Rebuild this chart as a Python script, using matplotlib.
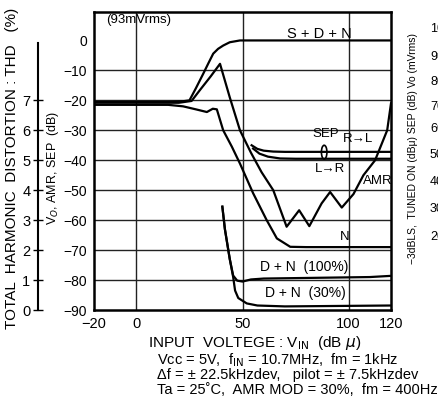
import matplotlib
matplotlib.use("Agg")
import matplotlib.pyplot as plt
from matplotlib.patches import Ellipse

plt.rcParams['font.family'] = ['Liberation Sans', 'DejaVu Sans']
plt.rcParams['axes.unicode_minus'] = True

# ---------------- data (dB vs input dBμ) ----------------
sdn_x = [-20, 15, 22, 25, 28, 31.5, 34, 36.2, 38.5, 40.9, 44, 48.8, 60, 120]
sdn_y = [-20.5, -20.5, -20.3, -20, -16, -11.1, -7.5, -4.4, -2.8, -1.7, -0.6, 0, 0, 0]

amr_x = [-20, 20, 26, 30, 35, 39.4, 44, 48.8, 54, 59, 64.5, 70.8, 76.7, 81.5, 87.3, 91.3,
         96.8, 102.3, 107, 112.5, 118.2, 120]
amr_y = [-20.8, -20.8, -20.2, -16.5, -12, -7.8, -19, -30, -37.5, -44, -50, -62.2, -56.7, -62,
         -54.4, -50.6, -55.8, -51.3, -45, -40, -30, -21]

n_x = [-20, 15, 22, 28, 33.2, 36, 37.9, 40.9, 45, 48.8, 55, 61.4, 66.2, 72.5, 80, 120]
n_y = [-21.5, -21.5, -22, -23, -23.9, -22.8, -23, -30, -35.5, -41.1, -51, -60, -66.1, -68.9, -69, -69]

sep_rl_x = [54.3, 57, 60, 64.5, 70, 120]
sep_rl_y = [-35, -36.2, -36.8, -37.1, -37.2, -37.2]

sep_lr_x = [55, 58, 62, 67.7, 75, 120]
sep_lr_y = [-36.1, -37.8, -38.8, -39.4, -39.5, -39.5]

dn100_x = [40.5, 41.7, 44, 45.6, 47.5, 50, 54, 60, 90, 110, 120]
dn100_y = [-55.5, -63, -73, -78.5, -80.2, -80.5, -79.8, -79.5, -79.2, -79, -78.6]

dn30_x = [40.5, 41.7, 44, 45.6, 46.5, 48, 52, 57, 70, 120]
dn30_y = [-55.5, -63, -73, -79, -83.5, -86, -87.8, -88.5, -88.8, -88.5]

x_ticks = [-20, 0, 50, 100, 120]
x_ticklabels = ["\u221220", "0", "50", "100", "120"]
y_ticks = [-90, -80, -70, -60, -50, -40, -30, -20, -10, 0]
y_ticklabels = ["\u221290", "\u221280", "\u221270", "\u221260", "\u221250", "\u221240",
                "\u221230", "\u221220", "\u221210", "0"]
thd_ticks = [0, 1, 2, 3, 4, 5, 6, 7]
right_ticks = [10, 4.3, -5, -13.3, -21.7, -29, -37.7, -46.7, -55.7, -65]
right_ticklabels = ["110", "100", "90", "80", "70", "60", "50", "40", "30", "20"]

# ---------------- figure ----------------
W, H = 438, 399
fig = plt.figure(figsize=(W / 100, H / 100), dpi=100)
ax = fig.add_axes([94 / W, 1 - 310 / H, (391 - 94) / W, (310 - 12) / H])
ax.set_xlim(-20, 120)
ax.set_ylim(-90, 9.5)

# grid
for yv in [-80, -70, -60, -50, -40, -30, -20, -10]:
    ax.axhline(yv, color='#222222', lw=1.0, zorder=1)
for xv in [0, 50, 100]:
    ax.axvline(xv, color='#222222', lw=1.0, zorder=1)

lw = 1.6
for xs, ys in [(sdn_x, sdn_y), (amr_x, amr_y), (n_x, n_y), (sep_rl_x, sep_rl_y),
               (sep_lr_x, sep_lr_y), (dn100_x, dn100_y), (dn30_x, dn30_y)]:
    ax.plot(xs, ys, color='black', lw=lw, zorder=3, solid_joinstyle='round')

for s in ax.spines.values():
    s.set_linewidth(1.8)
    s.set_color('black')

ax.set_xticks(x_ticks)
ax.set_xticklabels(x_ticklabels, fontsize=10.5)
ax.set_yticks(y_ticks)
ax.set_yticklabels(y_ticklabels, fontsize=10)
ax.tick_params(length=0, pad=5)

# in-plot labels
tk = dict(fontsize=9.5, color='black', zorder=5)
ax.text(-14.4, 6.7, "(93mVrms)", ha='left', va='center', **tk)
ax.text(71, 2.3, "S + D + N", ha='left', va='center', fontsize=10.5, zorder=5)
ax.text(82.8, -31.3, "SEP", ha='left', va='center', **tk)
ax.text(97.4, -33, "R\u2192L", ha='left', va='center', **tk)
ax.text(84, -43, "L\u2192R", ha='left', va='center', **tk)
ax.text(107, -47, "AMR", ha='left', va='center', **tk)
ax.text(96, -65.7, "N", ha='left', va='center', **tk)
ax.text(58.3, -75.7, "D + N  (100%)", ha='left', va='center', fontsize=10, zorder=5)
ax.text(60.6, -84.3, "D + N  (30%)", ha='left', va='center', fontsize=10, zorder=5)
ax.add_patch(Ellipse((88.5, -37.3), 2.6, 4.6, fill=False, ec='black', lw=1.2, zorder=4))

# THD axis
thd = ax.secondary_yaxis((38 - 94) / (391 - 94),
                         functions=(lambda d: (d + 90) / 10, lambda t: t * 10 - 90))
thd.set_yticks(thd_ticks)
thd.set_yticklabels([str(t) for t in thd_ticks], fontsize=10.5)
thd.tick_params(direction='inout', length=7, width=1.0, pad=2)
thd.spines['left'].set_linewidth(1.5)
thd.spines['left'].set_bounds(0, 8.9)

# right cut-off scale
rs = ax.secondary_yaxis(1 + (430 - 391) / (391 - 94))
rs.set_yticks(right_ticks)
rs.set_yticklabels(right_ticklabels, fontsize=9)
rs.tick_params(length=0, pad=0)
rs.spines['right'].set_visible(False)

# axis titles
fig.text(12 / W, 1 - 168 / H, "TOTAL  HARMONIC  DISTORTION : THD   (%)",
         rotation=90, ha='center', va='center', fontsize=11)
fig.text(53 / W, 1 - 168 / H, "V$_O$, AMR, SEP  (dB)",
         rotation=90, ha='center', va='center', fontsize=9)
fig.text(413 / W, 1 - 149 / H, "\u22123dBLS,  TUNED ON (dB\u03bc) SEP (dB) Vo (mVrms)",
         rotation=90, ha='center', va='center', fontsize=7.5)
fig.text(255 / W, 1 - 343 / H, "INPUT  VOLTEGE : V$_{\\rm IN}$  (dB $\\mu$)",
         ha='center', va='center', fontsize=11)
fig.text(157 / W, 1 - 360 / H, "Vcc = 5V,  f$_{\\rm IN}$ = 10.7MHz,  fm = 1kHz",
         ha='left', va='center', fontsize=10.5)
fig.text(157 / W, 1 - 375 / H, "\u0394f = \u00b1 22.5kHzdev,   pilot = \u00b1 7.5kHzdev",
         ha='left', va='center', fontsize=10.5)
fig.text(157 / W, 1 - 390 / H, "Ta = 25\u02daC,  AMR MOD = 30%,  fm = 400Hz",
         ha='left', va='center', fontsize=10.5)

fig.savefig("out.png", dpi=100)
